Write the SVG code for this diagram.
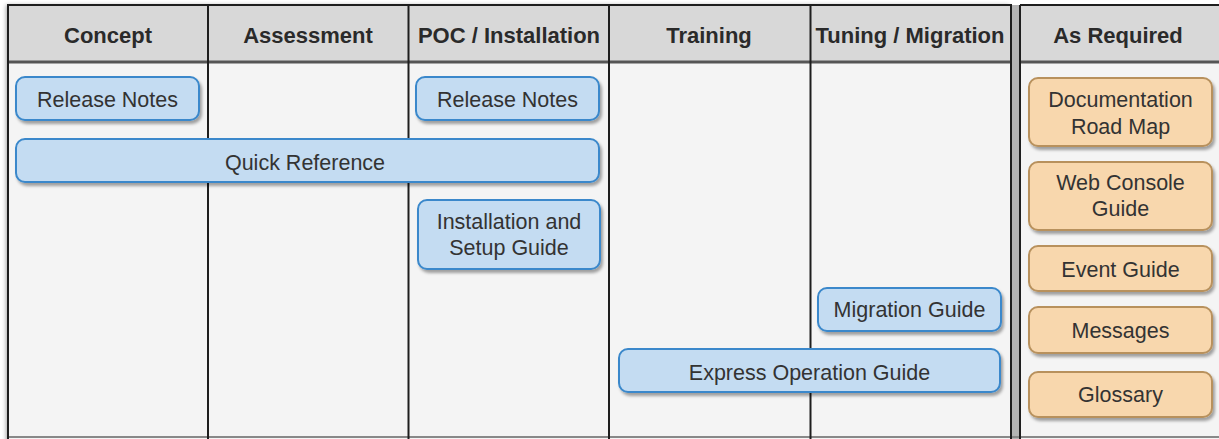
<svg xmlns="http://www.w3.org/2000/svg" width="1219" height="439" viewBox="0 0 1219 439">
<defs>
<filter id="sh" x="-10%" y="-20%" width="125%" height="150%">
<feDropShadow dx="2" dy="3" stdDeviation="1.5" flood-color="#000" flood-opacity="0.35"/>
</filter>
<filter id="tsh" x="-5%" y="-5%" width="110%" height="110%">
<feDropShadow dx="-2" dy="0" stdDeviation="2" flood-color="#000" flood-opacity="0.35"/>
</filter>
</defs>
<style>
.hdr{fill:#d8d8d8}
.body{fill:#f4f4f4}
.grid{stroke:#1e1e1e;stroke-width:2;fill:none}
.hline{stroke:#555;stroke-width:3}
.ht{font-family:"Liberation Sans",Arial,sans-serif;font-weight:bold;font-size:22px;fill:#2a2a2a;text-anchor:middle}
.bt{font-family:"Liberation Sans",Arial,sans-serif;font-size:21.5px;fill:#333;text-anchor:middle}
.blue{fill:#c4dcf2;stroke:#3a88cb;stroke-width:2;filter:url(#sh)}
.orange{fill:#f8d7ad;stroke:#b8915d;stroke-width:2;filter:url(#sh)}
</style>
<rect x="0" y="0" width="1219" height="439" fill="#ffffff"/>
<g id="table-main">
<rect x="8" y="5" width="1003" height="440" class="body" filter="url(#tsh)"/>
<rect x="8" y="5" width="1003" height="57" class="hdr"/>
<rect x="1011" y="5" width="9" height="440" fill="#b4b4b4"/>
<rect x="1020" y="5" width="205" height="440" class="body"/>
<rect x="1020" y="5" width="205" height="57" class="hdr"/>
<line x1="8" y1="62" x2="1011" y2="62" class="hline"/>
<line x1="1020" y1="62" x2="1219" y2="62" class="hline"/>
<line x1="8" y1="437" x2="1219" y2="437" stroke="#888" stroke-width="2"/>
<rect x="8" y="5" width="1003" height="440" class="grid"/>
<line x1="1020" y1="5" x2="1219" y2="5" class="grid"/>
<line x1="1020" y1="5" x2="1020" y2="439" class="grid"/>
<line x1="208" y1="5" x2="208" y2="439" class="grid"/>
<line x1="408.5" y1="5" x2="408.5" y2="439" class="grid"/>
<line x1="609" y1="5" x2="609" y2="439" class="grid"/>
<line x1="810.5" y1="5" x2="810.5" y2="439" class="grid"/>
<text x="108" y="43" class="ht">Concept</text>
<text x="308" y="43" class="ht">Assessment</text>
<text x="509" y="43" class="ht">POC / Installation</text>
<text x="709" y="43" class="ht">Training</text>
<text x="910" y="43" class="ht">Tuning / Migration</text>
<text x="1118" y="43" class="ht">As Required</text>
</g>
<g id="connectors"></g>
<g id="release-notes-1">
<rect x="16" y="77" width="183" height="43" rx="9" class="blue"/>
<text x="107.5" y="107" class="bt">Release Notes</text>
</g>
<g id="quick-reference">
<rect x="16" y="139" width="583" height="43" rx="9" class="blue"/>
<text x="305" y="170" class="bt">Quick Reference</text>
</g>
<g id="release-notes-2">
<rect x="416" y="77" width="183" height="43" rx="9" class="blue"/>
<text x="507.5" y="107" class="bt">Release Notes</text>
</g>
<g id="installation-setup-guide">
<rect x="418" y="200" width="182" height="69" rx="9" class="blue"/>
<text x="509" y="229" class="bt">Installation and</text>
<text x="509" y="255" class="bt">Setup Guide</text>
</g>
<g id="migration-guide">
<rect x="818" y="288" width="183" height="43" rx="9" class="blue"/>
<text x="909.5" y="317" class="bt">Migration Guide</text>
</g>
<g id="express-operation-guide">
<rect x="619" y="349" width="381" height="43" rx="9" class="blue"/>
<text x="809.5" y="380" class="bt">Express Operation Guide</text>
</g>
<g id="documentation-road-map">
<rect x="1029" y="78" width="183" height="68" rx="9" class="orange"/>
<text x="1120.5" y="107" class="bt">Documentation</text>
<text x="1120.5" y="134" class="bt">Road Map</text>
</g>
<g id="web-console-guide">
<rect x="1029" y="162" width="183" height="68" rx="9" class="orange"/>
<text x="1120.5" y="190" class="bt">Web Console</text>
<text x="1120.5" y="216" class="bt">Guide</text>
</g>
<g id="event-guide">
<rect x="1029" y="246" width="183" height="45" rx="9" class="orange"/>
<text x="1120.5" y="277" class="bt">Event Guide</text>
</g>
<g id="messages">
<rect x="1029" y="307" width="183" height="46" rx="9" class="orange"/>
<text x="1120.5" y="338" class="bt">Messages</text>
</g>
<g id="glossary">
<rect x="1029" y="372" width="183" height="45" rx="9" class="orange"/>
<text x="1120.5" y="402" class="bt">Glossary</text>
</g>
</svg>
